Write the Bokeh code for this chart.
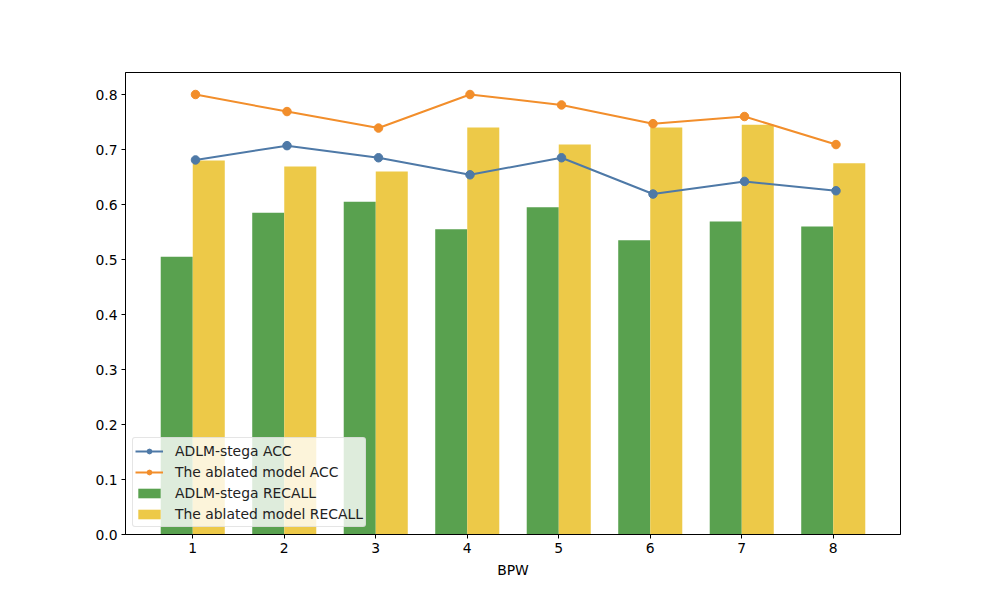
from bokeh.plotting import figure
from bokeh.models import ColumnDataSource, Legend, LegendItem, FixedTicker, Range1d, NumeralTickFormatter
from bokeh.transform import dodge
from bokeh.embed import file_html
from bokeh.resources import INLINE

bpw = [1, 2, 3, 4, 5, 6, 7, 8]
adlm_acc = [0.681, 0.707, 0.685, 0.654, 0.685, 0.619, 0.642, 0.625]
ablated_acc = [0.800, 0.769, 0.739, 0.800, 0.781, 0.747, 0.760, 0.709]
adlm_recall = [0.505, 0.585, 0.605, 0.555, 0.595, 0.535, 0.569, 0.560]
ablated_recall = [0.680, 0.669, 0.660, 0.740, 0.709, 0.740, 0.745, 0.675]

src = ColumnDataSource(dict(x=bpw, a_acc=adlm_acc, b_acc=ablated_acc,
                            a_rec=adlm_recall, b_rec=ablated_recall))

FONT = "DejaVu Sans"
FS = "13.9px"
p = figure(output_backend="svg", toolbar_location=None,
           frame_width=775, frame_height=462,
           x_range=Range1d(0.265, 8.735), y_range=Range1d(0, 0.84))
p.min_border_left = 125
p.min_border_right = 90
p.min_border_top = 72
p.min_border_bottom = 40
p.background_fill_color = "white"
p.border_fill_color = "white"
p.outline_line_color = "black"
p.outline_line_width = 1
p.grid.visible = False

bw = 0.35
r_g = p.vbar(x=dodge("x", -bw / 2), top="a_rec", width=bw, source=src,
             fill_color="#59a14f", line_color=None)
r_y = p.vbar(x=dodge("x", bw / 2), top="b_rec", width=bw, source=src,
             fill_color="#edc948", line_color=None)

r_bl = p.line(x=dodge("x", 0.03), y="a_acc", source=src, line_color="#4e79a7", line_width=2)
r_bs = p.scatter(x=dodge("x", 0.03), y="a_acc", source=src, size=8.5,
                 fill_color="#4e79a7", line_color="#4e79a7")
r_ol = p.line(x=dodge("x", 0.03), y="b_acc", source=src, line_color="#f28e2b", line_width=2)
r_os = p.scatter(x=dodge("x", 0.03), y="b_acc", source=src, size=8.5,
                 fill_color="#f28e2b", line_color="#f28e2b")

p.xaxis.ticker = FixedTicker(ticks=bpw)
p.yaxis.ticker = FixedTicker(ticks=[0.0, 0.1, 0.2, 0.3, 0.4, 0.5, 0.6, 0.7, 0.8])
p.yaxis.formatter = NumeralTickFormatter(format="0.0")
for ax in (p.xaxis[0], p.yaxis[0]):
    ax.major_tick_in = 0
    ax.major_tick_out = 4
    ax.minor_tick_line_color = None
    ax.axis_line_color = "black"
    ax.major_tick_line_color = "black"
    ax.major_label_text_font = FONT
    ax.major_label_text_font_size = FS
    ax.major_label_text_color = "black"
    ax.major_label_standoff = 4
p.xaxis.axis_label = "BPW"
p.xaxis.axis_label_text_font = FONT
p.xaxis.axis_label_text_font_size = FS
p.xaxis.axis_label_text_font_style = "normal"
p.xaxis.axis_label_text_color = "black"
p.xaxis.axis_label_standoff = 6

legend = Legend(items=[
    LegendItem(label="ADLM-stega ACC", renderers=[r_bl, r_bs]),
    LegendItem(label="The ablated model ACC", renderers=[r_ol, r_os]),
    LegendItem(label="ADLM-stega RECALL", renderers=[r_g]),
    LegendItem(label="The ablated model RECALL", renderers=[r_y]),
], location="bottom_left")
legend.label_text_font = FONT
legend.label_text_font_size = FS
legend.label_text_color = "#222222"
legend.label_height = 21
legend.glyph_height = 12
legend.glyph_width = 28
legend.label_standoff = 12
legend.spacing = 0
legend.padding = 2
legend.margin = 7
legend.border_line_color = "#cccccc"
legend.border_line_width = 1
legend.background_fill_alpha = 0.8
legend.border_radius = 3
p.add_layout(legend)

open("out.html", "w").write(file_html(p, INLINE))
